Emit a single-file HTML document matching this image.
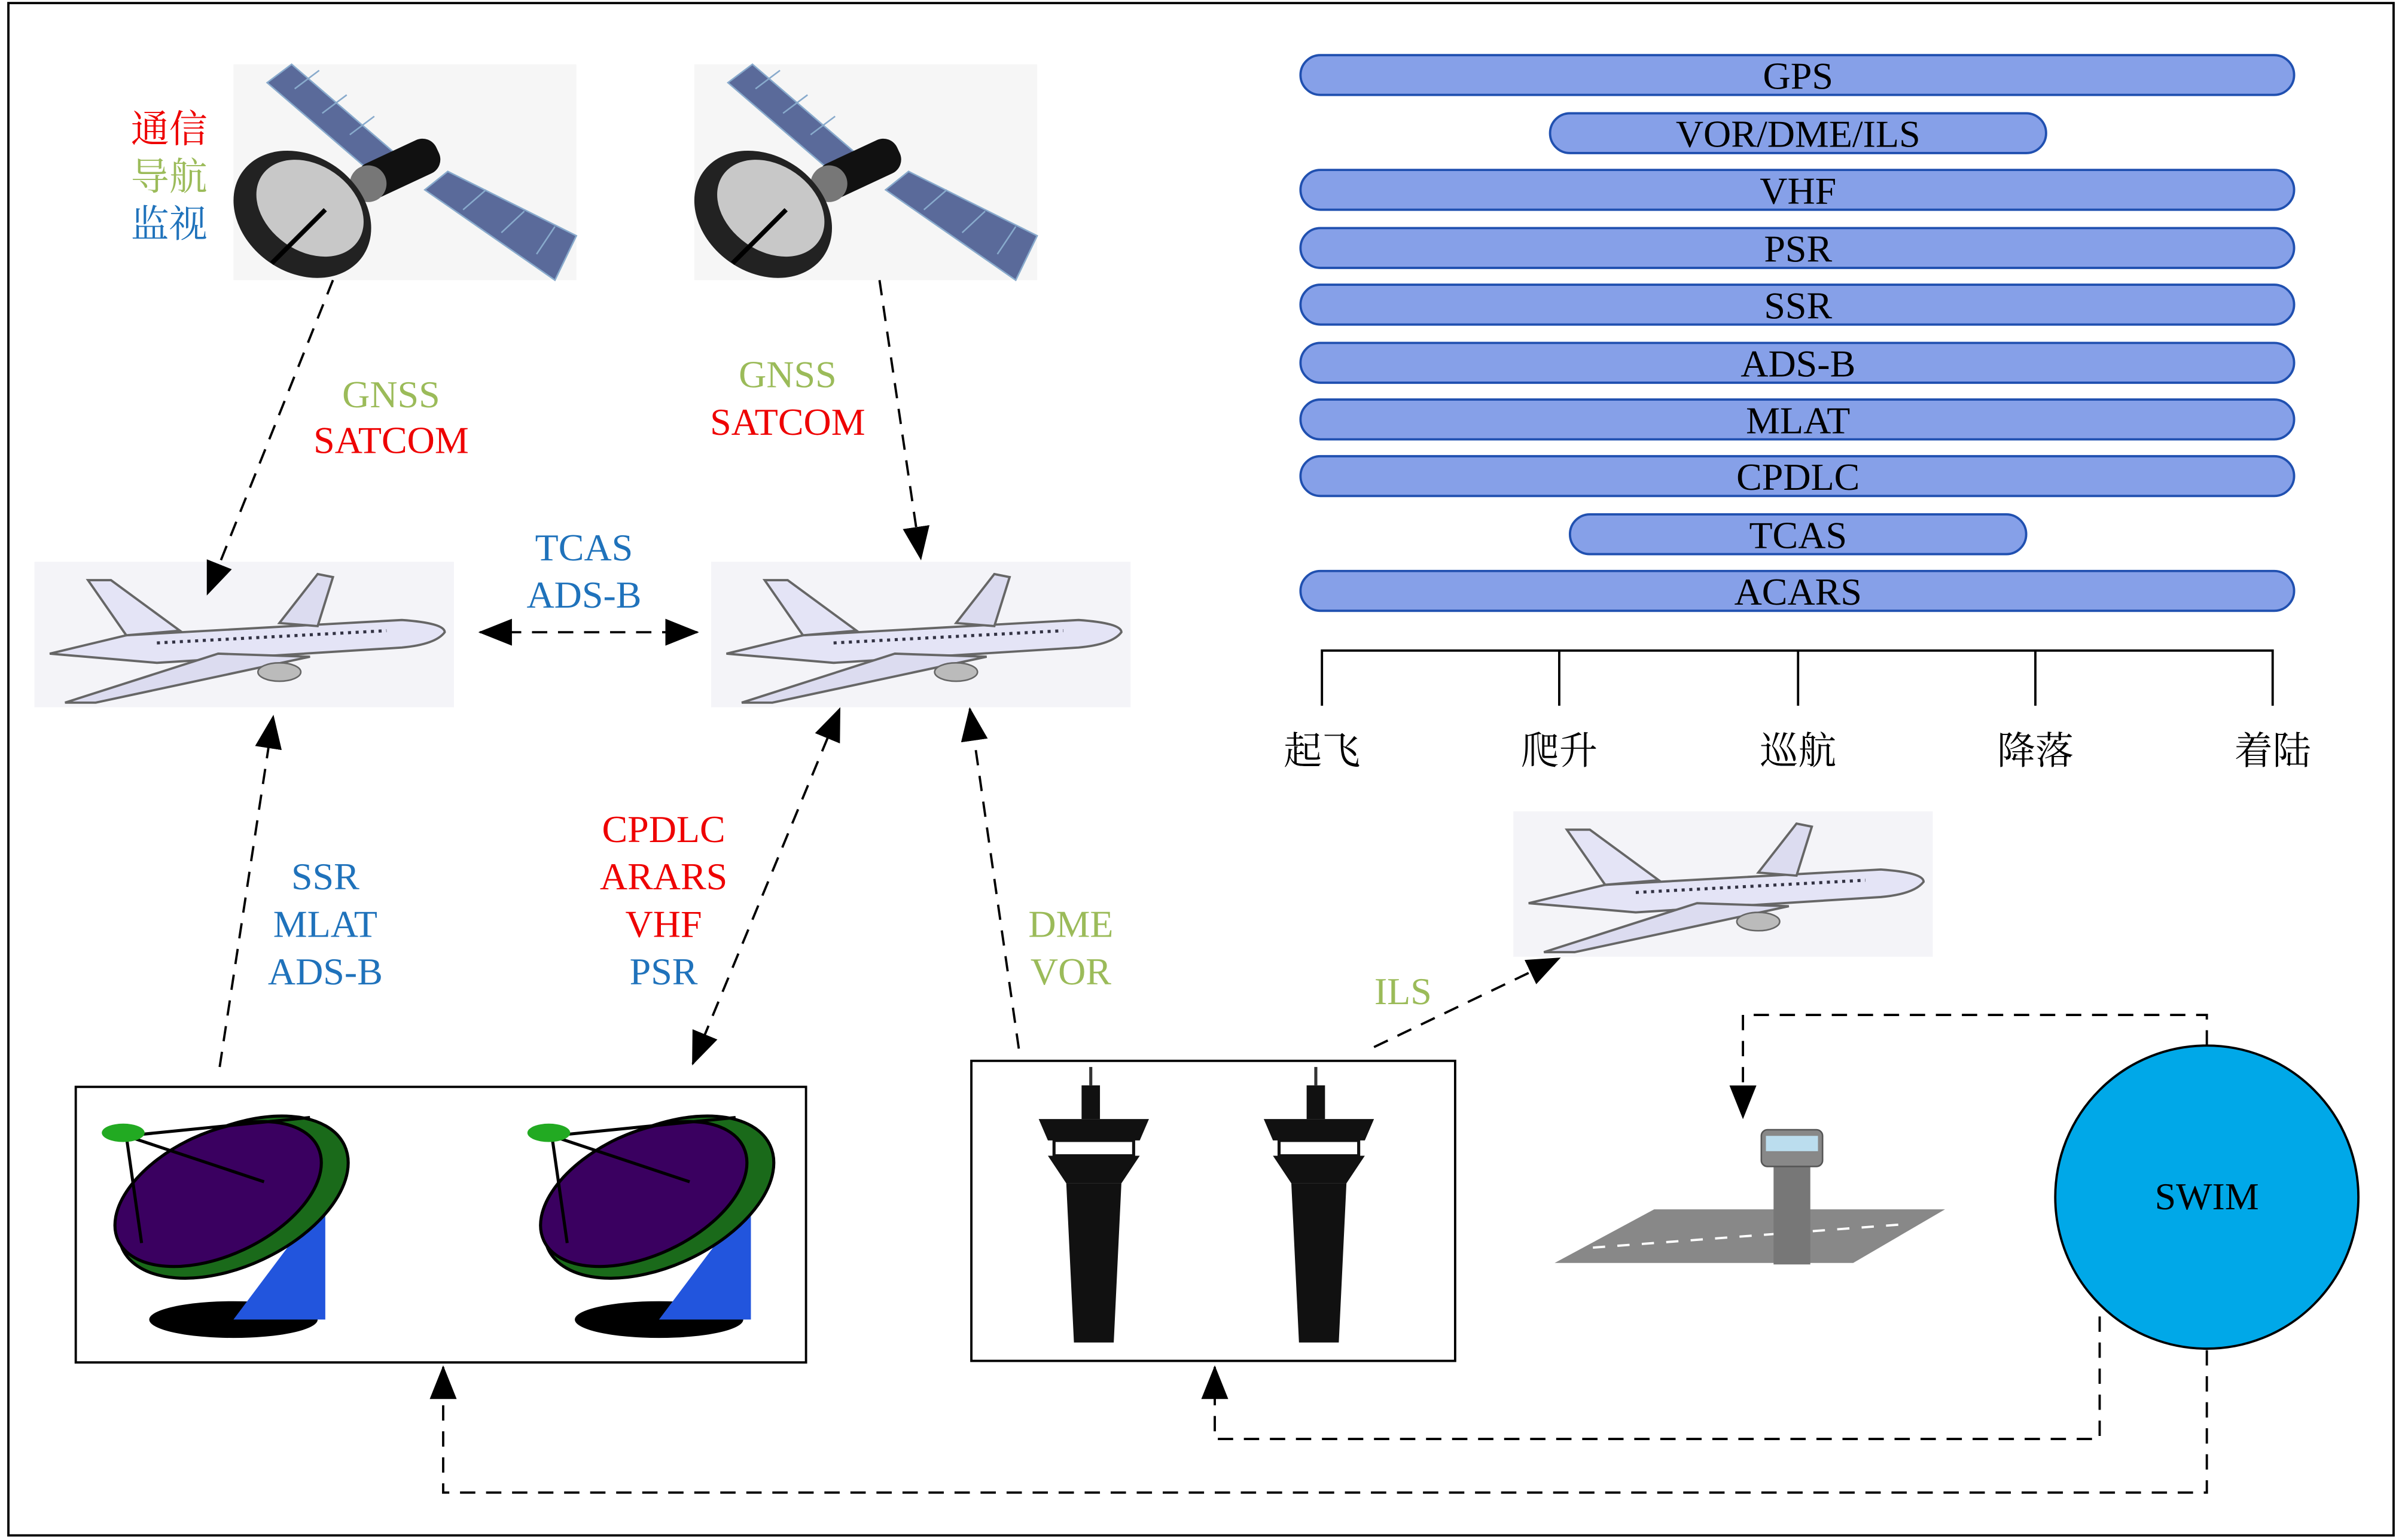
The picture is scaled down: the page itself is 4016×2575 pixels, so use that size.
<!DOCTYPE html>
<html><head><meta charset="utf-8">
<style>
html,body{margin:0;padding:0;background:#fff;}
svg{display:block;}
</style></head><body>
<svg width="4016" height="2575" viewBox="0 0 1568 1006" xmlns="http://www.w3.org/2000/svg" font-family="'Liberation Serif','DejaVu Serif','Noto Serif CJK SC',serif" font-size="25" text-anchor="middle">
<defs>
<marker id="a2" viewBox="0 0 20 20" refX="19" refY="10" markerWidth="22" markerHeight="22" markerUnits="userSpaceOnUse" orient="auto-start-reverse">
<path d="M0,2 L20,10 L0,18 z" fill="#000"/></marker>
<g id="sat">
<rect x="0" y="0" width="224" height="141" fill="#f6f6f6"/>
<polygon points="22,12 38,0 110,62 94,74" fill="#5a6a9a" stroke="#8ac" stroke-width="1"/>
<line x1="40" y1="16" x2="56" y2="4" stroke="#8ac"/><line x1="58" y1="32" x2="74" y2="20" stroke="#8ac"/><line x1="76" y1="46" x2="92" y2="34" stroke="#8ac"/>
<polygon points="125,82 140,70 224,112 210,141" fill="#5a6a9a" stroke="#8ac" stroke-width="1"/>
<line x1="150" y1="95" x2="165" y2="82" stroke="#8ac"/><line x1="175" y1="110" x2="190" y2="96" stroke="#8ac"/><line x1="198" y1="124" x2="210" y2="106" stroke="#8ac"/>
<rect x="80" y="56" width="56" height="24" rx="10" fill="#111" transform="rotate(-25 108 68)"/>
<circle cx="88" cy="78" r="12" fill="#777"/>
<ellipse cx="45" cy="98" rx="48" ry="38" fill="#222" transform="rotate(35 45 98)"/>
<ellipse cx="50" cy="94" rx="38" ry="28" fill="#c8c8c8" transform="rotate(35 50 94)"/>
<line x1="60" y1="95" x2="25" y2="130" stroke="#000" stroke-width="3"/>
</g>
<g id="plane">
<rect x="0" y="0" width="274" height="95" fill="#f4f4f8"/>
<path d="M10,60 L60,48 L240,38 Q268,40 268,46 Q262,54 240,56 L80,66 Z" fill="#e4e4f6" stroke="#666" stroke-width="1.5"/>
<path d="M60,48 L35,12 L50,12 L95,45 Z" fill="#e4e4f6" stroke="#666" stroke-width="1.5"/>
<path d="M120,60 L20,92 L40,92 L180,62 Z" fill="#dcdcf0" stroke="#666" stroke-width="1.5"/>
<path d="M160,40 L185,8 L195,10 L185,42 Z" fill="#dcdcf0" stroke="#666" stroke-width="1.5"/>
<ellipse cx="160" cy="72" rx="14" ry="6" fill="#bbb" stroke="#666"/>
<line x1="80" y1="53" x2="230" y2="45" stroke="#334" stroke-width="2" stroke-dasharray="2,3"/>
</g>
<g id="radar">
<ellipse cx="90" cy="140" rx="55" ry="12" fill="#000"/>
<polygon points="90,140 150,140 150,60" fill="#2255dd"/>
<ellipse cx="90" cy="60" rx="80" ry="45" fill="#1a6a1a" stroke="#000" stroke-width="2" transform="rotate(-25 90 60)"/>
<ellipse cx="80" cy="58" rx="72" ry="40" fill="#3a0060" stroke="#000" stroke-width="2" transform="rotate(-25 80 58)"/>
<line x1="20" y1="20" x2="30" y2="90" stroke="#000" stroke-width="2"/>
<line x1="20" y1="20" x2="110" y2="50" stroke="#000" stroke-width="2"/>
<line x1="20" y1="20" x2="140" y2="8" stroke="#000" stroke-width="2"/>
<ellipse cx="18" cy="18" rx="14" ry="6" fill="#2a2"/>
</g>
<g id="tower">
<rect x="-3" y="0" width="2" height="12" fill="#333"/>
<rect x="-8" y="12" width="12" height="22" fill="#111"/>
<polygon points="-36,34 36,34 30,48 -30,48" fill="#111"/>
<rect x="-26" y="48" width="52" height="10" fill="#fff" stroke="#111" stroke-width="2"/>
<polygon points="-30,58 30,58 18,76 -18,76" fill="#111"/>
<polygon points="-18,76 18,76 13,180 -13,180" fill="#111"/>
</g>
</defs>
<rect x="0" y="0" width="1568" height="1006" fill="#fff"/>
<rect x="5" y="2" width="1558" height="1001" fill="none" stroke="#000" stroke-width="1.5"/>

<use href="#sat" x="152" y="42"/>
<use href="#sat" x="453" y="42"/>
<text x="110" y="93" fill="#e00">通信</text>
<text x="110" y="124" fill="#9bbb59">导航</text>
<text x="110" y="155" fill="#1f72bb">监视</text>

<use href="#plane" x="22" y="367"/>
<use href="#plane" x="464" y="367"/>
<use href="#plane" x="988" y="530"/>

<text x="255" y="266" fill="#9bbb59">GNSS</text>
<text x="255" y="296" fill="#e00">SATCOM</text>
<text x="514" y="253" fill="#9bbb59">GNSS</text>
<text x="514" y="284" fill="#e00">SATCOM</text>
<text x="381" y="366" fill="#1f72bb">TCAS</text>
<text x="381" y="397" fill="#1f72bb">ADS-B</text>

<g fill="#86a0e8" stroke="#2050b0" stroke-width="1.5">
<rect x="849" y="36" width="649" height="26" rx="13"/>
<rect x="1012" y="74" width="324" height="26" rx="13"/>
<rect x="849" y="111" width="649" height="26" rx="13"/>
<rect x="849" y="149" width="649" height="26" rx="13"/>
<rect x="849" y="186" width="649" height="26" rx="13"/>
<rect x="849" y="224" width="649" height="26" rx="13"/>
<rect x="849" y="261" width="649" height="26" rx="13"/>
<rect x="849" y="298" width="649" height="26" rx="13"/>
<rect x="1025" y="336" width="298" height="26" rx="13"/>
<rect x="849" y="373" width="649" height="26" rx="13"/>
</g>
<g fill="#000">
<text x="1174" y="58">GPS</text>
<text x="1174" y="96">VOR/DME/ILS</text>
<text x="1174" y="133">VHF</text>
<text x="1174" y="171">PSR</text>
<text x="1174" y="208">SSR</text>
<text x="1174" y="246">ADS-B</text>
<text x="1174" y="283">MLAT</text>
<text x="1174" y="320">CPDLC</text>
<text x="1174" y="358">TCAS</text>
<text x="1174" y="395">ACARS</text>
</g>
<g stroke="#000" stroke-width="1.5" fill="none">
<path d="M863,461 V425 H1484 V461 M1018,425 V461 M1174,425 V461 M1329,425 V461"/>
</g>
<g fill="#000">
<text x="863" y="499">起飞</text><text x="1018" y="499">爬升</text><text x="1174" y="499">巡航</text><text x="1329" y="499">降落</text><text x="1484" y="499">着陆</text>
</g>

<rect x="49" y="710" width="477" height="180" fill="#fff" stroke="#000" stroke-width="1.5"/>
<use href="#radar" x="62" y="722"/>
<use href="#radar" x="340" y="722"/>
<rect x="634" y="693" width="316" height="196" fill="#fff" stroke="#000" stroke-width="1.5"/>
<use href="#tower" x="714" y="697"/>
<use href="#tower" x="861" y="697"/>

<polygon points="1015,825 1080,790 1270,790 1210,825" fill="#888"/>
<line x1="1040" y1="815" x2="1240" y2="800" stroke="#fff" stroke-width="1.5" stroke-dasharray="8,8"/>
<rect x="1158" y="760" width="24" height="66" fill="#777"/>
<rect x="1150" y="738" width="40" height="24" rx="4" fill="#888" stroke="#555"/>
<rect x="1153" y="742" width="34" height="10" fill="#bde"/>

<circle cx="1441" cy="782" r="99" fill="#00a8e8" stroke="#000" stroke-width="1.5"/>
<text x="1441" y="790" fill="#000">SWIM</text>

<text x="212" y="581" fill="#1f72bb">SSR</text>
<text x="212" y="612" fill="#1f72bb">MLAT</text>
<text x="212" y="643" fill="#1f72bb">ADS-B</text>
<text x="433" y="550" fill="#e00">CPDLC</text>
<text x="433" y="581" fill="#e00">ARARS</text>
<text x="433" y="612" fill="#e00">VHF</text>
<text x="433" y="643" fill="#1f72bb">PSR</text>
<text x="699" y="612" fill="#9bbb59">DME</text>
<text x="699" y="643" fill="#9bbb59">VOR</text>
<text x="916" y="656" fill="#9bbb59">ILS</text>

<g stroke="#000" stroke-width="1.5" fill="none" stroke-dasharray="10,7">
<line x1="217" y1="183" x2="135" y2="388" marker-end="url(#a2)"/>
<line x1="574" y1="183" x2="601" y2="365" marker-end="url(#a2)"/>
<line x1="313" y1="413" x2="455" y2="413" marker-start="url(#a2)" marker-end="url(#a2)"/>
<line x1="143" y1="697" x2="178" y2="468" marker-end="url(#a2)"/>
<line x1="452" y1="695" x2="548" y2="463" marker-start="url(#a2)" marker-end="url(#a2)"/>
<line x1="665" y1="685" x2="633" y2="463" marker-end="url(#a2)"/>
<line x1="897" y1="684" x2="1018" y2="626" marker-end="url(#a2)"/>
<polyline points="1441,683 1441,663 1138,663 1138,730" marker-end="url(#a2)"/>
<polyline points="1371,860 1371,940 793,940 793,893" marker-end="url(#a2)"/>
<polyline points="1441,882 1441,975 289,975 289,893" marker-end="url(#a2)"/>
</g>
</svg>
</body></html>
